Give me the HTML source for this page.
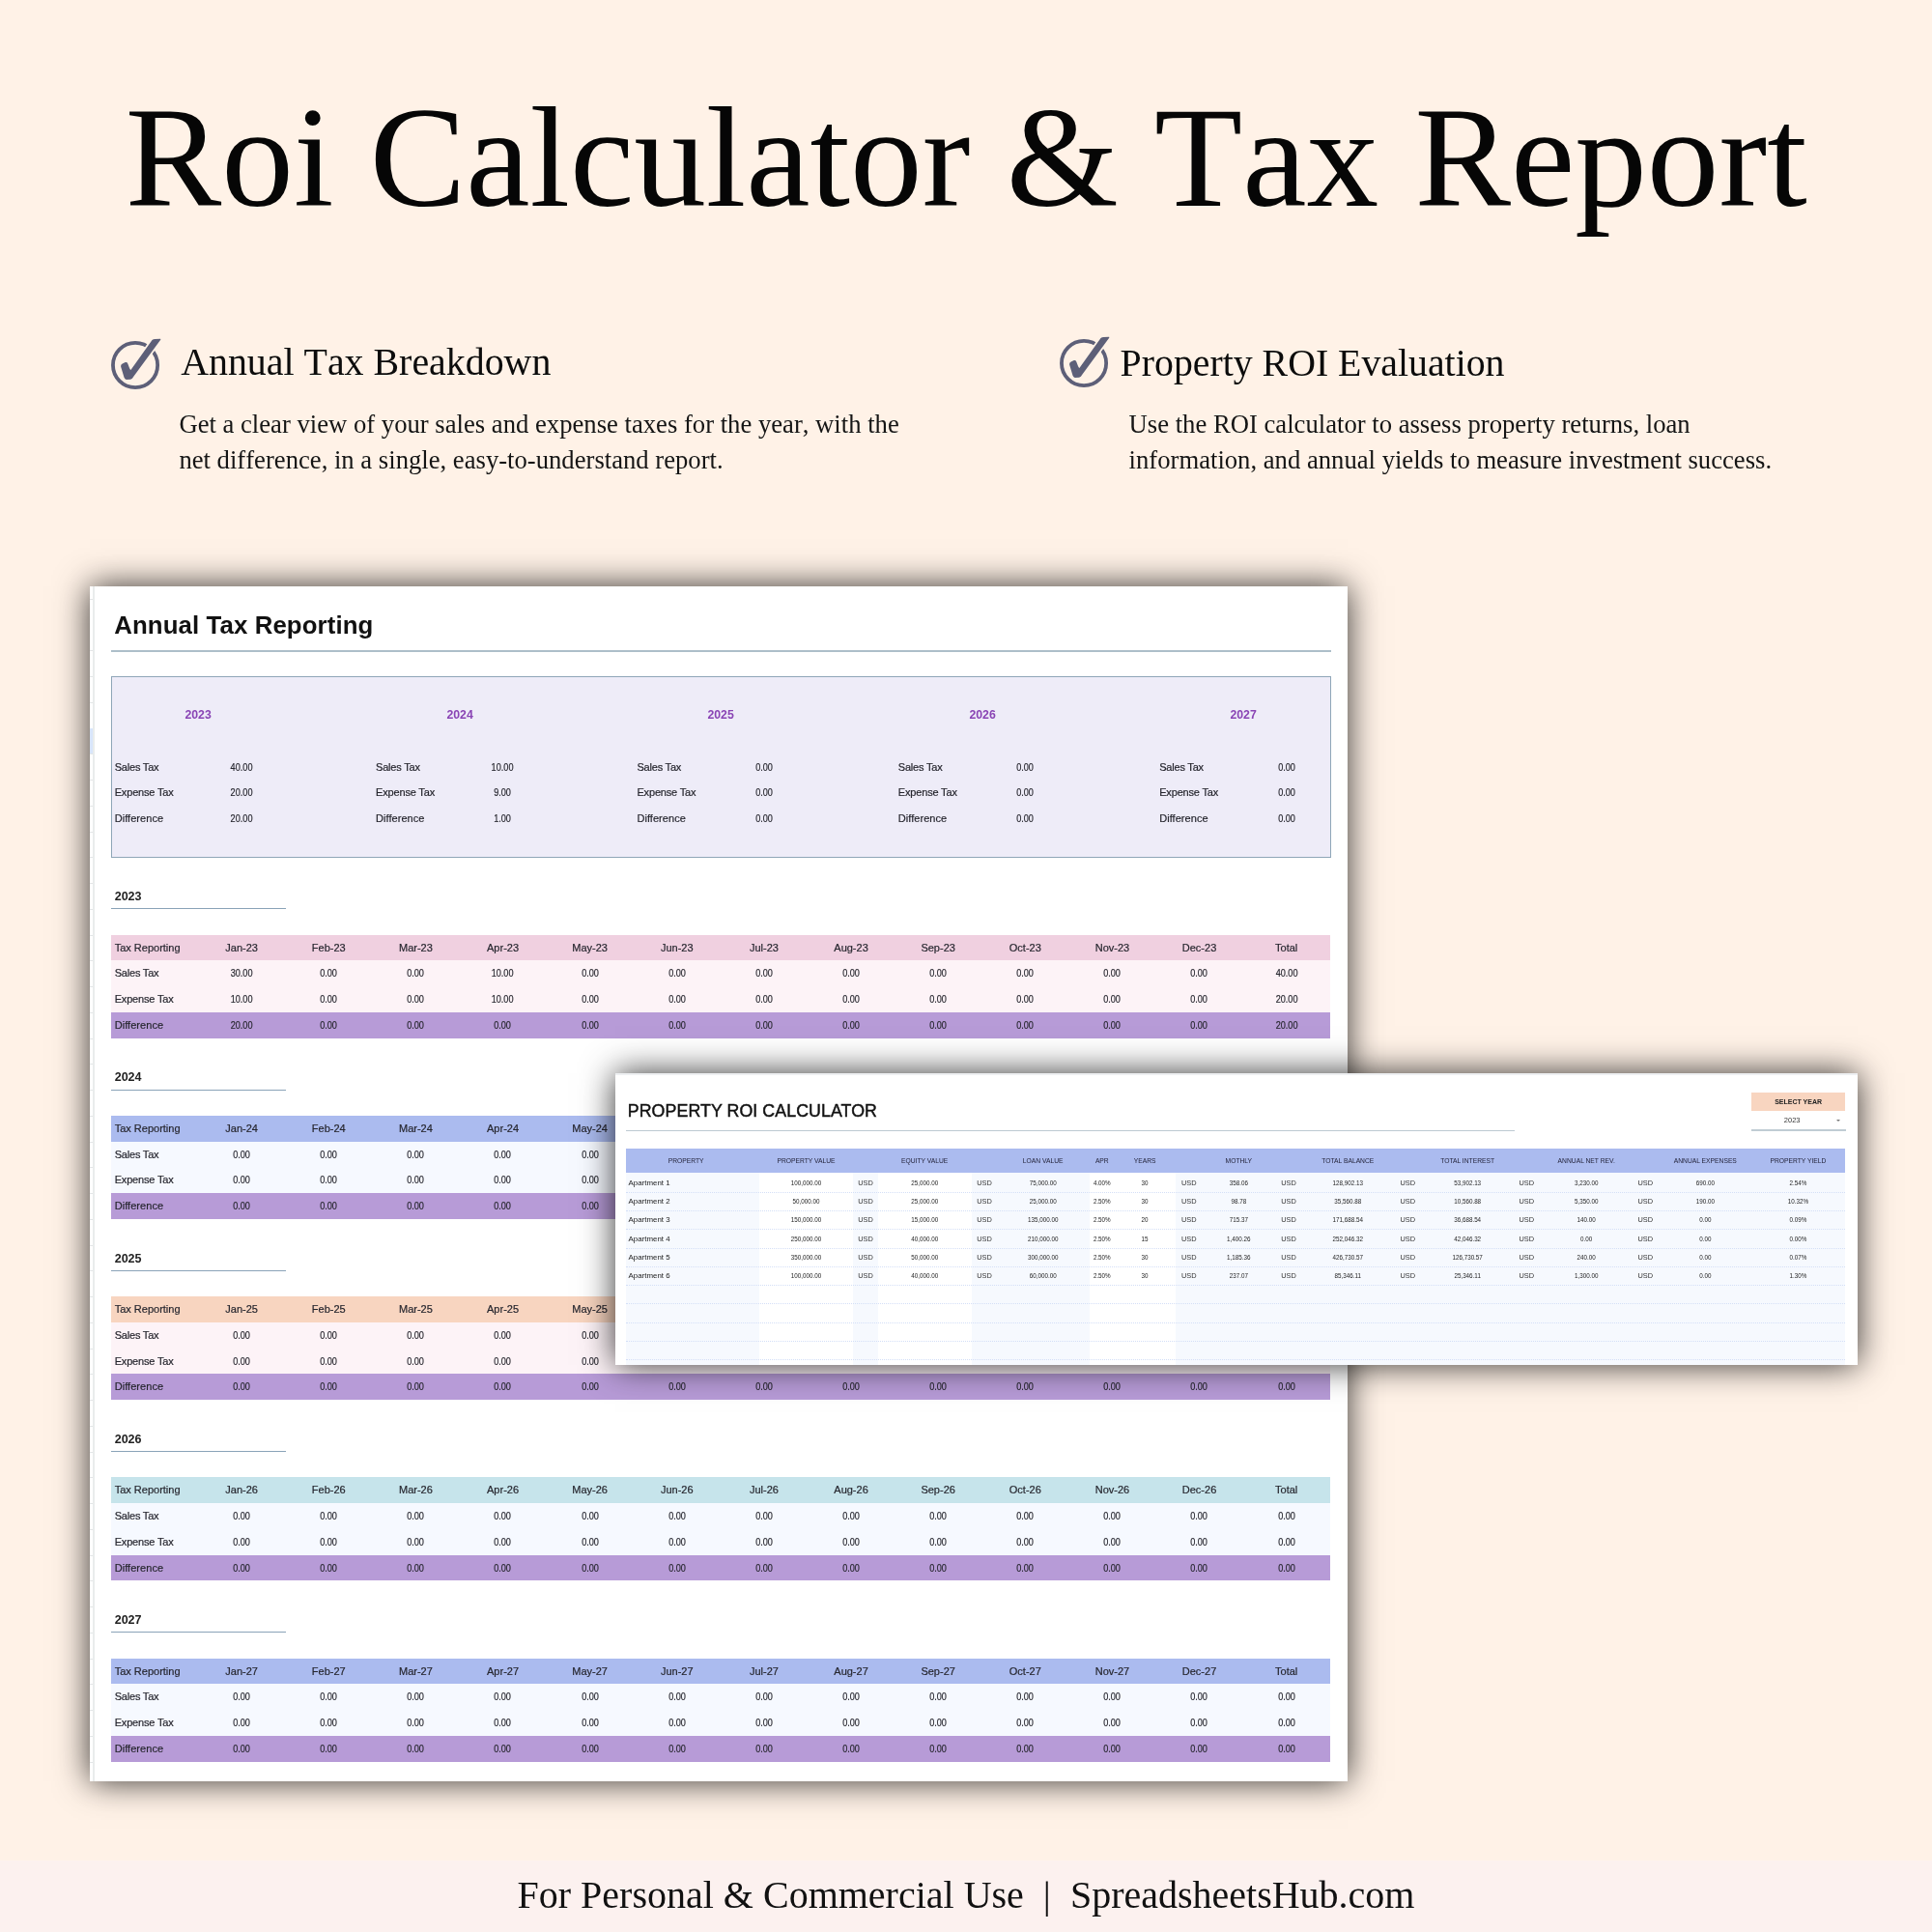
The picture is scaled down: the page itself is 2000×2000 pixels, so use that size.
<!DOCTYPE html><html lang="en"><head><meta charset="utf-8"><title>Roi Calculator &amp; Tax Report</title><style>

*{margin:0;padding:0;box-sizing:border-box}
html,body{width:2000px;height:2000px;overflow:hidden}
body{background:#fff2e7;position:relative;font-family:"Liberation Sans",sans-serif;color:#222}
.abs{position:absolute}
#page{position:absolute;left:0;top:0;width:2000px;height:2000px;will-change:transform}
.serif{font-family:"Liberation Serif",serif;font-kerning:none;font-feature-settings:"kern" 0,"liga" 0}
#title{left:0.2px;width:2000px;top:78.1px;text-align:center;font-size:149.25px;line-height:170px;color:#060606;white-space:nowrap;letter-spacing:0px}
.h{font-size:40px;line-height:46px;color:#0c0c0c;white-space:nowrap}
.p{font-size:26.67px;line-height:37px;color:#151515;white-space:nowrap}
#footband{left:0;top:1925.5px;width:2000px;height:75px;background:#fcf1ef}
#foot{left:0;width:2000px;top:1938.5px;text-align:center;font-size:40px;line-height:46px;color:#111;white-space:pre}
.panel{background:#fff;box-shadow:0 0 33px rgba(0,0,0,.8)}
#sheet{left:93.4px;top:607px;width:1301.5px;height:1236.5px;overflow:hidden}
.c{position:absolute;white-space:nowrap;font-size:11px;color:#26262e;-webkit-text-stroke:.2px #26262e}
.ls1{letter-spacing:-.2px}.ls2{letter-spacing:-.17px}.ls3{letter-spacing:.05px}
.cc{text-align:center}
.row{position:absolute;left:21.6px;width:1261.75px;height:26.75px}
.row span{position:absolute;top:0;height:26.75px;line-height:27.9px;font-size:11px;color:#26262e;white-space:nowrap;-webkit-text-stroke:.2px #26262e}
.row span.l{left:3.7px}
.row span.n{width:90.125px;text-align:center}
.row span.d{transform:scaleX(.83)}
.sx{transform:scaleX(.83)}
.yl{position:absolute;left:25.3px;font-weight:bold;font-size:12.5px;line-height:28.6px;color:#222}
.yu{position:absolute;left:21.6px;width:180.8px;height:1.1px;background:#8aa3b8}

</style></head><body><div id="page">
<div id="title" class="abs serif">Roi Calculator &amp; Tax Report</div>
<svg class="abs" style="left:105.00px;top:340.30px" width="70" height="70" viewBox="0 0 70 70"><circle cx="35.05" cy="37.95" r="23.1" fill="none" stroke="#5d5f78" stroke-width="3.8"/><path d="M30.4 42.9 L52.5 12.1 Q53.8 11.2 55.4 11 L60.9 10.8 Q61.7 11 61.2 11.8 L33.3 49.8 Q32.2 52.2 30.1 52.7 L25.8 53.1 Q24.2 52.7 23.5 50.7 L20.1 39.6 Q19.7 37.6 21.7 36.6 L24.8 35.1 Q26.5 34.6 27.3 36.4 L29 40.9 Q29.6 42.2 30.4 42.9Z" fill="none" stroke="#fff2e7" stroke-width="3.6" stroke-linejoin="round"/><path d="M30.4 42.9 L52.5 12.1 Q53.8 11.2 55.4 11 L60.9 10.8 Q61.7 11 61.2 11.8 L33.3 49.8 Q32.2 52.2 30.1 52.7 L25.8 53.1 Q24.2 52.7 23.5 50.7 L20.1 39.6 Q19.7 37.6 21.7 36.6 L24.8 35.1 Q26.5 34.6 27.3 36.4 L29 40.9 Q29.6 42.2 30.4 42.9Z" fill="#5d5f78"/></svg>
<svg class="abs" style="left:1087.00px;top:338.05px" width="70" height="70" viewBox="0 0 70 70"><circle cx="35.05" cy="37.95" r="23.1" fill="none" stroke="#5d5f78" stroke-width="3.8"/><path d="M30.4 42.9 L52.5 12.1 Q53.8 11.2 55.4 11 L60.9 10.8 Q61.7 11 61.2 11.8 L33.3 49.8 Q32.2 52.2 30.1 52.7 L25.8 53.1 Q24.2 52.7 23.5 50.7 L20.1 39.6 Q19.7 37.6 21.7 36.6 L24.8 35.1 Q26.5 34.6 27.3 36.4 L29 40.9 Q29.6 42.2 30.4 42.9Z" fill="none" stroke="#fff2e7" stroke-width="3.6" stroke-linejoin="round"/><path d="M30.4 42.9 L52.5 12.1 Q53.8 11.2 55.4 11 L60.9 10.8 Q61.7 11 61.2 11.8 L33.3 49.8 Q32.2 52.2 30.1 52.7 L25.8 53.1 Q24.2 52.7 23.5 50.7 L20.1 39.6 Q19.7 37.6 21.7 36.6 L24.8 35.1 Q26.5 34.6 27.3 36.4 L29 40.9 Q29.6 42.2 30.4 42.9Z" fill="#5d5f78"/></svg>
<div class="abs serif h" style="left:187.2px;top:352.4px;font-size:39.88px">Annual Tax Breakdown</div>
<div class="abs serif p" style="left:185.4px;top:420.7px;font-size:26.67px">Get a clear view of your sales and expense taxes for the year, with the<br>net difference, in a single, easy-to-understand report.</div>
<div class="abs serif h" style="left:1159.6px;top:352.6px;font-size:39.8px">Property ROI Evaluation</div>
<div class="abs serif p" style="left:1168.6px;top:420.8px">Use the ROI calculator to assess property returns, loan<br>information, and annual yields to measure investment success.</div>
<div id="footband" class="abs"></div>
<div id="foot" class="abs serif">For Personal &amp; Commercial Use  |  SpreadsheetsHub.com</div>
<div id="sheet" class="abs panel">
<div class="abs" style="left:0;top:0;width:2.6px;height:100%;background:#fff;border-right:2.1px solid #e9ecec;box-sizing:content-box"></div>
<div class="abs" style="left:0;top:12.60px;width:2.6px;height:1px;background:#e2e5e6"></div>
<div class="abs" style="left:0;top:66.25px;width:2.6px;height:1px;background:#e2e5e6"></div>
<div class="abs" style="left:0;top:93.00px;width:2.6px;height:1px;background:#e2e5e6"></div>
<div class="abs" style="left:0;top:119.75px;width:2.6px;height:1px;background:#e2e5e6"></div>
<div class="abs" style="left:0;top:146.50px;width:2.6px;height:1px;background:#e2e5e6"></div>
<div class="abs" style="left:0;top:173.25px;width:2.6px;height:1px;background:#e2e5e6"></div>
<div class="abs" style="left:0;top:200.00px;width:2.6px;height:1px;background:#e2e5e6"></div>
<div class="abs" style="left:0;top:226.75px;width:2.6px;height:1px;background:#e2e5e6"></div>
<div class="abs" style="left:0;top:253.50px;width:2.6px;height:1px;background:#e2e5e6"></div>
<div class="abs" style="left:0;top:280.25px;width:2.6px;height:1px;background:#e2e5e6"></div>
<div class="abs" style="left:0;top:307.00px;width:2.6px;height:1px;background:#e2e5e6"></div>
<div class="abs" style="left:0;top:333.75px;width:2.6px;height:1px;background:#e2e5e6"></div>
<div class="abs" style="left:0;top:360.50px;width:2.6px;height:1px;background:#e2e5e6"></div>
<div class="abs" style="left:0;top:387.25px;width:2.6px;height:1px;background:#e2e5e6"></div>
<div class="abs" style="left:0;top:414.00px;width:2.6px;height:1px;background:#e2e5e6"></div>
<div class="abs" style="left:0;top:440.75px;width:2.6px;height:1px;background:#e2e5e6"></div>
<div class="abs" style="left:0;top:467.50px;width:2.6px;height:1px;background:#e2e5e6"></div>
<div class="abs" style="left:0;top:494.25px;width:2.6px;height:1px;background:#e2e5e6"></div>
<div class="abs" style="left:0;top:521.00px;width:2.6px;height:1px;background:#e2e5e6"></div>
<div class="abs" style="left:0;top:547.75px;width:2.6px;height:1px;background:#e2e5e6"></div>
<div class="abs" style="left:0;top:574.50px;width:2.6px;height:1px;background:#e2e5e6"></div>
<div class="abs" style="left:0;top:601.25px;width:2.6px;height:1px;background:#e2e5e6"></div>
<div class="abs" style="left:0;top:628.00px;width:2.6px;height:1px;background:#e2e5e6"></div>
<div class="abs" style="left:0;top:654.75px;width:2.6px;height:1px;background:#e2e5e6"></div>
<div class="abs" style="left:0;top:681.50px;width:2.6px;height:1px;background:#e2e5e6"></div>
<div class="abs" style="left:0;top:708.25px;width:2.6px;height:1px;background:#e2e5e6"></div>
<div class="abs" style="left:0;top:735.00px;width:2.6px;height:1px;background:#e2e5e6"></div>
<div class="abs" style="left:0;top:761.75px;width:2.6px;height:1px;background:#e2e5e6"></div>
<div class="abs" style="left:0;top:788.50px;width:2.6px;height:1px;background:#e2e5e6"></div>
<div class="abs" style="left:0;top:815.25px;width:2.6px;height:1px;background:#e2e5e6"></div>
<div class="abs" style="left:0;top:842.00px;width:2.6px;height:1px;background:#e2e5e6"></div>
<div class="abs" style="left:0;top:868.75px;width:2.6px;height:1px;background:#e2e5e6"></div>
<div class="abs" style="left:0;top:895.50px;width:2.6px;height:1px;background:#e2e5e6"></div>
<div class="abs" style="left:0;top:922.25px;width:2.6px;height:1px;background:#e2e5e6"></div>
<div class="abs" style="left:0;top:949.00px;width:2.6px;height:1px;background:#e2e5e6"></div>
<div class="abs" style="left:0;top:975.75px;width:2.6px;height:1px;background:#e2e5e6"></div>
<div class="abs" style="left:0;top:1002.50px;width:2.6px;height:1px;background:#e2e5e6"></div>
<div class="abs" style="left:0;top:1029.25px;width:2.6px;height:1px;background:#e2e5e6"></div>
<div class="abs" style="left:0;top:1056.00px;width:2.6px;height:1px;background:#e2e5e6"></div>
<div class="abs" style="left:0;top:1082.75px;width:2.6px;height:1px;background:#e2e5e6"></div>
<div class="abs" style="left:0;top:1109.50px;width:2.6px;height:1px;background:#e2e5e6"></div>
<div class="abs" style="left:0;top:1136.25px;width:2.6px;height:1px;background:#e2e5e6"></div>
<div class="abs" style="left:0;top:1163.00px;width:2.6px;height:1px;background:#e2e5e6"></div>
<div class="abs" style="left:0;top:1189.75px;width:2.6px;height:1px;background:#e2e5e6"></div>
<div class="abs" style="left:0;top:1216.50px;width:2.6px;height:1px;background:#e2e5e6"></div>
<div class="abs" style="left:0;top:146.50px;width:2.6px;height:26.75px;background:#d8e5fb"></div>
<div class="abs" style="left:24.9px;top:24.50px;font-weight:bold;font-size:25.8px;line-height:30px;color:#111;white-space:nowrap;letter-spacing:.1px">Annual Tax Reporting</div>
<div class="abs" style="left:21.6px;top:66.00px;width:1263.1px;height:1.6px;background:#adbec9"></div>
<div class="abs" style="left:21.6px;top:93.00px;width:1263.1px;height:188px;background:#eeecf8;border:1.2px solid #8fa6b8"></div>
<div class="c cc" style="left:22.00px;top:120.15px;width:180.25px;line-height:26.75px;font-weight:bold;font-size:13.5px;color:#8a45b5;-webkit-text-stroke:0;transform:scaleX(.91)">2023</div>
<div class="c ls1" style="left:25.30px;top:173.65px;line-height:26.75px">Sales Tax</div>
<div class="c cc sx" style="left:111.72px;top:173.65px;width:90.12px;line-height:26.75px">40.00</div>
<div class="c ls2" style="left:25.30px;top:200.40px;line-height:26.75px">Expense Tax</div>
<div class="c cc sx" style="left:111.72px;top:200.40px;width:90.12px;line-height:26.75px">20.00</div>
<div class="c ls3" style="left:25.30px;top:227.15px;line-height:26.75px">Difference</div>
<div class="c cc sx" style="left:111.72px;top:227.15px;width:90.12px;line-height:26.75px">20.00</div>
<div class="c cc" style="left:292.38px;top:120.15px;width:180.25px;line-height:26.75px;font-weight:bold;font-size:13.5px;color:#8a45b5;-webkit-text-stroke:0;transform:scaleX(.91)">2024</div>
<div class="c ls1" style="left:295.68px;top:173.65px;line-height:26.75px">Sales Tax</div>
<div class="c cc sx" style="left:382.10px;top:173.65px;width:90.12px;line-height:26.75px">10.00</div>
<div class="c ls2" style="left:295.68px;top:200.40px;line-height:26.75px">Expense Tax</div>
<div class="c cc sx" style="left:382.10px;top:200.40px;width:90.12px;line-height:26.75px">9.00</div>
<div class="c ls3" style="left:295.68px;top:227.15px;line-height:26.75px">Difference</div>
<div class="c cc sx" style="left:382.10px;top:227.15px;width:90.12px;line-height:26.75px">1.00</div>
<div class="c cc" style="left:562.75px;top:120.15px;width:180.25px;line-height:26.75px;font-weight:bold;font-size:13.5px;color:#8a45b5;-webkit-text-stroke:0;transform:scaleX(.91)">2025</div>
<div class="c ls1" style="left:566.05px;top:173.65px;line-height:26.75px">Sales Tax</div>
<div class="c cc sx" style="left:652.48px;top:173.65px;width:90.12px;line-height:26.75px">0.00</div>
<div class="c ls2" style="left:566.05px;top:200.40px;line-height:26.75px">Expense Tax</div>
<div class="c cc sx" style="left:652.48px;top:200.40px;width:90.12px;line-height:26.75px">0.00</div>
<div class="c ls3" style="left:566.05px;top:227.15px;line-height:26.75px">Difference</div>
<div class="c cc sx" style="left:652.48px;top:227.15px;width:90.12px;line-height:26.75px">0.00</div>
<div class="c cc" style="left:833.12px;top:120.15px;width:180.25px;line-height:26.75px;font-weight:bold;font-size:13.5px;color:#8a45b5;-webkit-text-stroke:0;transform:scaleX(.91)">2026</div>
<div class="c ls1" style="left:836.43px;top:173.65px;line-height:26.75px">Sales Tax</div>
<div class="c cc sx" style="left:922.85px;top:173.65px;width:90.12px;line-height:26.75px">0.00</div>
<div class="c ls2" style="left:836.43px;top:200.40px;line-height:26.75px">Expense Tax</div>
<div class="c cc sx" style="left:922.85px;top:200.40px;width:90.12px;line-height:26.75px">0.00</div>
<div class="c ls3" style="left:836.43px;top:227.15px;line-height:26.75px">Difference</div>
<div class="c cc sx" style="left:922.85px;top:227.15px;width:90.12px;line-height:26.75px">0.00</div>
<div class="c cc" style="left:1103.50px;top:120.15px;width:180.25px;line-height:26.75px;font-weight:bold;font-size:13.5px;color:#8a45b5;-webkit-text-stroke:0;transform:scaleX(.91)">2027</div>
<div class="c ls1" style="left:1106.80px;top:173.65px;line-height:26.75px">Sales Tax</div>
<div class="c cc sx" style="left:1193.22px;top:173.65px;width:90.12px;line-height:26.75px">0.00</div>
<div class="c ls2" style="left:1106.80px;top:200.40px;line-height:26.75px">Expense Tax</div>
<div class="c cc sx" style="left:1193.22px;top:200.40px;width:90.12px;line-height:26.75px">0.00</div>
<div class="c ls3" style="left:1106.80px;top:227.15px;line-height:26.75px">Difference</div>
<div class="c cc sx" style="left:1193.22px;top:227.15px;width:90.12px;line-height:26.75px">0.00</div>
<div class="yl" style="top:307.00px">2023</div>
<div class="yu" style="top:333.35px"></div>
<div class="row" style="top:360.50px;background:#f0d0e0"><span class="l">Tax Reporting</span><span class="n" style="left:90.12px">Jan-23</span><span class="n" style="left:180.25px">Feb-23</span><span class="n" style="left:270.38px">Mar-23</span><span class="n" style="left:360.50px">Apr-23</span><span class="n" style="left:450.62px">May-23</span><span class="n" style="left:540.75px">Jun-23</span><span class="n" style="left:630.88px">Jul-23</span><span class="n" style="left:721.00px">Aug-23</span><span class="n" style="left:811.12px">Sep-23</span><span class="n" style="left:901.25px">Oct-23</span><span class="n" style="left:991.38px">Nov-23</span><span class="n" style="left:1081.50px">Dec-23</span><span class="n" style="left:1171.62px">Total</span></div>
<div class="row" style="top:387.25px;background:#fdf3f7"><span class="l ls1">Sales Tax</span><span class="n d" style="left:90.12px">30.00</span><span class="n d" style="left:180.25px">0.00</span><span class="n d" style="left:270.38px">0.00</span><span class="n d" style="left:360.50px">10.00</span><span class="n d" style="left:450.62px">0.00</span><span class="n d" style="left:540.75px">0.00</span><span class="n d" style="left:630.88px">0.00</span><span class="n d" style="left:721.00px">0.00</span><span class="n d" style="left:811.12px">0.00</span><span class="n d" style="left:901.25px">0.00</span><span class="n d" style="left:991.38px">0.00</span><span class="n d" style="left:1081.50px">0.00</span><span class="n d" style="left:1171.62px">40.00</span></div>
<div class="row" style="top:414.00px;background:#fdf3f7"><span class="l ls2">Expense Tax</span><span class="n d" style="left:90.12px">10.00</span><span class="n d" style="left:180.25px">0.00</span><span class="n d" style="left:270.38px">0.00</span><span class="n d" style="left:360.50px">10.00</span><span class="n d" style="left:450.62px">0.00</span><span class="n d" style="left:540.75px">0.00</span><span class="n d" style="left:630.88px">0.00</span><span class="n d" style="left:721.00px">0.00</span><span class="n d" style="left:811.12px">0.00</span><span class="n d" style="left:901.25px">0.00</span><span class="n d" style="left:991.38px">0.00</span><span class="n d" style="left:1081.50px">0.00</span><span class="n d" style="left:1171.62px">20.00</span></div>
<div class="row" style="top:440.75px;background:#b79bd7"><span class="l ls3">Difference</span><span class="n d" style="left:90.12px">20.00</span><span class="n d" style="left:180.25px">0.00</span><span class="n d" style="left:270.38px">0.00</span><span class="n d" style="left:360.50px">0.00</span><span class="n d" style="left:450.62px">0.00</span><span class="n d" style="left:540.75px">0.00</span><span class="n d" style="left:630.88px">0.00</span><span class="n d" style="left:721.00px">0.00</span><span class="n d" style="left:811.12px">0.00</span><span class="n d" style="left:901.25px">0.00</span><span class="n d" style="left:991.38px">0.00</span><span class="n d" style="left:1081.50px">0.00</span><span class="n d" style="left:1171.62px">20.00</span></div>
<div class="yl" style="top:494.25px">2024</div>
<div class="yu" style="top:520.60px"></div>
<div class="row" style="top:547.75px;background:#abbbef"><span class="l">Tax Reporting</span><span class="n" style="left:90.12px">Jan-24</span><span class="n" style="left:180.25px">Feb-24</span><span class="n" style="left:270.38px">Mar-24</span><span class="n" style="left:360.50px">Apr-24</span><span class="n" style="left:450.62px">May-24</span><span class="n" style="left:540.75px">Jun-24</span><span class="n" style="left:630.88px">Jul-24</span><span class="n" style="left:721.00px">Aug-24</span><span class="n" style="left:811.12px">Sep-24</span><span class="n" style="left:901.25px">Oct-24</span><span class="n" style="left:991.38px">Nov-24</span><span class="n" style="left:1081.50px">Dec-24</span><span class="n" style="left:1171.62px">Total</span></div>
<div class="row" style="top:574.50px;background:#f6f9ff"><span class="l ls1">Sales Tax</span><span class="n d" style="left:90.12px">0.00</span><span class="n d" style="left:180.25px">0.00</span><span class="n d" style="left:270.38px">0.00</span><span class="n d" style="left:360.50px">0.00</span><span class="n d" style="left:450.62px">0.00</span><span class="n d" style="left:540.75px">0.00</span><span class="n d" style="left:630.88px">0.00</span><span class="n d" style="left:721.00px">0.00</span><span class="n d" style="left:811.12px">0.00</span><span class="n d" style="left:901.25px">0.00</span><span class="n d" style="left:991.38px">0.00</span><span class="n d" style="left:1081.50px">0.00</span><span class="n d" style="left:1171.62px">0.00</span></div>
<div class="row" style="top:601.25px;background:#f6f9ff"><span class="l ls2">Expense Tax</span><span class="n d" style="left:90.12px">0.00</span><span class="n d" style="left:180.25px">0.00</span><span class="n d" style="left:270.38px">0.00</span><span class="n d" style="left:360.50px">0.00</span><span class="n d" style="left:450.62px">0.00</span><span class="n d" style="left:540.75px">0.00</span><span class="n d" style="left:630.88px">0.00</span><span class="n d" style="left:721.00px">0.00</span><span class="n d" style="left:811.12px">0.00</span><span class="n d" style="left:901.25px">0.00</span><span class="n d" style="left:991.38px">0.00</span><span class="n d" style="left:1081.50px">0.00</span><span class="n d" style="left:1171.62px">0.00</span></div>
<div class="row" style="top:628.00px;background:#b79bd7"><span class="l ls3">Difference</span><span class="n d" style="left:90.12px">0.00</span><span class="n d" style="left:180.25px">0.00</span><span class="n d" style="left:270.38px">0.00</span><span class="n d" style="left:360.50px">0.00</span><span class="n d" style="left:450.62px">0.00</span><span class="n d" style="left:540.75px">0.00</span><span class="n d" style="left:630.88px">0.00</span><span class="n d" style="left:721.00px">0.00</span><span class="n d" style="left:811.12px">0.00</span><span class="n d" style="left:901.25px">0.00</span><span class="n d" style="left:991.38px">0.00</span><span class="n d" style="left:1081.50px">0.00</span><span class="n d" style="left:1171.62px">0.00</span></div>
<div class="yl" style="top:681.50px">2025</div>
<div class="yu" style="top:707.85px"></div>
<div class="row" style="top:735.00px;background:#f8d5c0"><span class="l">Tax Reporting</span><span class="n" style="left:90.12px">Jan-25</span><span class="n" style="left:180.25px">Feb-25</span><span class="n" style="left:270.38px">Mar-25</span><span class="n" style="left:360.50px">Apr-25</span><span class="n" style="left:450.62px">May-25</span><span class="n" style="left:540.75px">Jun-25</span><span class="n" style="left:630.88px">Jul-25</span><span class="n" style="left:721.00px">Aug-25</span><span class="n" style="left:811.12px">Sep-25</span><span class="n" style="left:901.25px">Oct-25</span><span class="n" style="left:991.38px">Nov-25</span><span class="n" style="left:1081.50px">Dec-25</span><span class="n" style="left:1171.62px">Total</span></div>
<div class="row" style="top:761.75px;background:#fdf3f7"><span class="l ls1">Sales Tax</span><span class="n d" style="left:90.12px">0.00</span><span class="n d" style="left:180.25px">0.00</span><span class="n d" style="left:270.38px">0.00</span><span class="n d" style="left:360.50px">0.00</span><span class="n d" style="left:450.62px">0.00</span><span class="n d" style="left:540.75px">0.00</span><span class="n d" style="left:630.88px">0.00</span><span class="n d" style="left:721.00px">0.00</span><span class="n d" style="left:811.12px">0.00</span><span class="n d" style="left:901.25px">0.00</span><span class="n d" style="left:991.38px">0.00</span><span class="n d" style="left:1081.50px">0.00</span><span class="n d" style="left:1171.62px">0.00</span></div>
<div class="row" style="top:788.50px;background:#fdf3f7"><span class="l ls2">Expense Tax</span><span class="n d" style="left:90.12px">0.00</span><span class="n d" style="left:180.25px">0.00</span><span class="n d" style="left:270.38px">0.00</span><span class="n d" style="left:360.50px">0.00</span><span class="n d" style="left:450.62px">0.00</span><span class="n d" style="left:540.75px">0.00</span><span class="n d" style="left:630.88px">0.00</span><span class="n d" style="left:721.00px">0.00</span><span class="n d" style="left:811.12px">0.00</span><span class="n d" style="left:901.25px">0.00</span><span class="n d" style="left:991.38px">0.00</span><span class="n d" style="left:1081.50px">0.00</span><span class="n d" style="left:1171.62px">0.00</span></div>
<div class="row" style="top:815.25px;background:#b79bd7"><span class="l ls3">Difference</span><span class="n d" style="left:90.12px">0.00</span><span class="n d" style="left:180.25px">0.00</span><span class="n d" style="left:270.38px">0.00</span><span class="n d" style="left:360.50px">0.00</span><span class="n d" style="left:450.62px">0.00</span><span class="n d" style="left:540.75px">0.00</span><span class="n d" style="left:630.88px">0.00</span><span class="n d" style="left:721.00px">0.00</span><span class="n d" style="left:811.12px">0.00</span><span class="n d" style="left:901.25px">0.00</span><span class="n d" style="left:991.38px">0.00</span><span class="n d" style="left:1081.50px">0.00</span><span class="n d" style="left:1171.62px">0.00</span></div>
<div class="yl" style="top:868.75px">2026</div>
<div class="yu" style="top:895.10px"></div>
<div class="row" style="top:922.25px;background:#c6e4eb"><span class="l">Tax Reporting</span><span class="n" style="left:90.12px">Jan-26</span><span class="n" style="left:180.25px">Feb-26</span><span class="n" style="left:270.38px">Mar-26</span><span class="n" style="left:360.50px">Apr-26</span><span class="n" style="left:450.62px">May-26</span><span class="n" style="left:540.75px">Jun-26</span><span class="n" style="left:630.88px">Jul-26</span><span class="n" style="left:721.00px">Aug-26</span><span class="n" style="left:811.12px">Sep-26</span><span class="n" style="left:901.25px">Oct-26</span><span class="n" style="left:991.38px">Nov-26</span><span class="n" style="left:1081.50px">Dec-26</span><span class="n" style="left:1171.62px">Total</span></div>
<div class="row" style="top:949.00px;background:#f6f9ff"><span class="l ls1">Sales Tax</span><span class="n d" style="left:90.12px">0.00</span><span class="n d" style="left:180.25px">0.00</span><span class="n d" style="left:270.38px">0.00</span><span class="n d" style="left:360.50px">0.00</span><span class="n d" style="left:450.62px">0.00</span><span class="n d" style="left:540.75px">0.00</span><span class="n d" style="left:630.88px">0.00</span><span class="n d" style="left:721.00px">0.00</span><span class="n d" style="left:811.12px">0.00</span><span class="n d" style="left:901.25px">0.00</span><span class="n d" style="left:991.38px">0.00</span><span class="n d" style="left:1081.50px">0.00</span><span class="n d" style="left:1171.62px">0.00</span></div>
<div class="row" style="top:975.75px;background:#f6f9ff"><span class="l ls2">Expense Tax</span><span class="n d" style="left:90.12px">0.00</span><span class="n d" style="left:180.25px">0.00</span><span class="n d" style="left:270.38px">0.00</span><span class="n d" style="left:360.50px">0.00</span><span class="n d" style="left:450.62px">0.00</span><span class="n d" style="left:540.75px">0.00</span><span class="n d" style="left:630.88px">0.00</span><span class="n d" style="left:721.00px">0.00</span><span class="n d" style="left:811.12px">0.00</span><span class="n d" style="left:901.25px">0.00</span><span class="n d" style="left:991.38px">0.00</span><span class="n d" style="left:1081.50px">0.00</span><span class="n d" style="left:1171.62px">0.00</span></div>
<div class="row" style="top:1002.50px;background:#b79bd7"><span class="l ls3">Difference</span><span class="n d" style="left:90.12px">0.00</span><span class="n d" style="left:180.25px">0.00</span><span class="n d" style="left:270.38px">0.00</span><span class="n d" style="left:360.50px">0.00</span><span class="n d" style="left:450.62px">0.00</span><span class="n d" style="left:540.75px">0.00</span><span class="n d" style="left:630.88px">0.00</span><span class="n d" style="left:721.00px">0.00</span><span class="n d" style="left:811.12px">0.00</span><span class="n d" style="left:901.25px">0.00</span><span class="n d" style="left:991.38px">0.00</span><span class="n d" style="left:1081.50px">0.00</span><span class="n d" style="left:1171.62px">0.00</span></div>
<div class="yl" style="top:1056.00px">2027</div>
<div class="yu" style="top:1082.35px"></div>
<div class="row" style="top:1109.50px;background:#abbbef"><span class="l">Tax Reporting</span><span class="n" style="left:90.12px">Jan-27</span><span class="n" style="left:180.25px">Feb-27</span><span class="n" style="left:270.38px">Mar-27</span><span class="n" style="left:360.50px">Apr-27</span><span class="n" style="left:450.62px">May-27</span><span class="n" style="left:540.75px">Jun-27</span><span class="n" style="left:630.88px">Jul-27</span><span class="n" style="left:721.00px">Aug-27</span><span class="n" style="left:811.12px">Sep-27</span><span class="n" style="left:901.25px">Oct-27</span><span class="n" style="left:991.38px">Nov-27</span><span class="n" style="left:1081.50px">Dec-27</span><span class="n" style="left:1171.62px">Total</span></div>
<div class="row" style="top:1136.25px;background:#f6f9ff"><span class="l ls1">Sales Tax</span><span class="n d" style="left:90.12px">0.00</span><span class="n d" style="left:180.25px">0.00</span><span class="n d" style="left:270.38px">0.00</span><span class="n d" style="left:360.50px">0.00</span><span class="n d" style="left:450.62px">0.00</span><span class="n d" style="left:540.75px">0.00</span><span class="n d" style="left:630.88px">0.00</span><span class="n d" style="left:721.00px">0.00</span><span class="n d" style="left:811.12px">0.00</span><span class="n d" style="left:901.25px">0.00</span><span class="n d" style="left:991.38px">0.00</span><span class="n d" style="left:1081.50px">0.00</span><span class="n d" style="left:1171.62px">0.00</span></div>
<div class="row" style="top:1163.00px;background:#f6f9ff"><span class="l ls2">Expense Tax</span><span class="n d" style="left:90.12px">0.00</span><span class="n d" style="left:180.25px">0.00</span><span class="n d" style="left:270.38px">0.00</span><span class="n d" style="left:360.50px">0.00</span><span class="n d" style="left:450.62px">0.00</span><span class="n d" style="left:540.75px">0.00</span><span class="n d" style="left:630.88px">0.00</span><span class="n d" style="left:721.00px">0.00</span><span class="n d" style="left:811.12px">0.00</span><span class="n d" style="left:901.25px">0.00</span><span class="n d" style="left:991.38px">0.00</span><span class="n d" style="left:1081.50px">0.00</span><span class="n d" style="left:1171.62px">0.00</span></div>
<div class="row" style="top:1189.75px;background:#b79bd7"><span class="l ls3">Difference</span><span class="n d" style="left:90.12px">0.00</span><span class="n d" style="left:180.25px">0.00</span><span class="n d" style="left:270.38px">0.00</span><span class="n d" style="left:360.50px">0.00</span><span class="n d" style="left:450.62px">0.00</span><span class="n d" style="left:540.75px">0.00</span><span class="n d" style="left:630.88px">0.00</span><span class="n d" style="left:721.00px">0.00</span><span class="n d" style="left:811.12px">0.00</span><span class="n d" style="left:901.25px">0.00</span><span class="n d" style="left:991.38px">0.00</span><span class="n d" style="left:1081.50px">0.00</span><span class="n d" style="left:1171.62px">0.00</span></div>
</div>
<div id="roi" class="abs panel" style="left:636.7px;top:1111.2px;width:1286px;height:301.9px;overflow:hidden">
<div class="abs" style="left:0;top:0;width:100%;height:1.4px;background:#eef0f2"></div>
<div class="abs" style="left:13.1px;top:27.10px;font-size:17.8px;line-height:24px;color:#111;white-space:nowrap;letter-spacing:.07px;-webkit-text-stroke:.45px #111">PROPERTY ROI CALCULATOR</div>
<div class="abs" style="left:11.5px;top:58.50px;width:919.5px;height:1.3px;background:#bdcad2"></div>
<div class="abs" style="left:1176.50px;top:19.80px;width:96.8px;height:19.2px;background:#f8d5c0;text-align:center;font-weight:bold;font-size:7px;line-height:19.2px;color:#222">SELECT YEAR</div>
<div class="abs" style="left:1176.50px;top:39.20px;width:84px;text-align:center;font-size:7.5px;line-height:19.2px;color:#333">2023</div>
<div class="abs" style="left:1264.60px;top:48.20px;width:0;height:0;border-left:2px solid transparent;border-right:2px solid transparent;border-top:2.4px solid #777"></div>
<div class="abs" style="left:1176.50px;top:58.20px;width:97.6px;height:1.6px;background:#c0ccd4"></div>
<div class="abs" style="left:11.60px;top:103.30px;width:124.50px;height:220px;background:#f6f9fe"></div>
<div class="abs" style="left:136.00px;top:103.30px;width:13.10px;height:220px;background:#f6f9fe"></div>
<div class="abs" style="left:246.00px;top:103.30px;width:26.70px;height:220px;background:#f6f9fe"></div>
<div class="abs" style="left:369.00px;top:103.30px;width:26.70px;height:220px;background:#f6f9fe"></div>
<div class="abs" style="left:395.60px;top:103.30px;width:95.50px;height:220px;background:#f6f9fe"></div>
<div class="abs" style="left:580.80px;top:103.30px;width:26.50px;height:220px;background:#f6f9fe"></div>
<div class="abs" style="left:607.20px;top:103.30px;width:76.80px;height:220px;background:#f6f9fe"></div>
<div class="abs" style="left:683.90px;top:103.30px;width:26.90px;height:220px;background:#f6f9fe"></div>
<div class="abs" style="left:710.70px;top:103.30px;width:96.70px;height:220px;background:#f6f9fe"></div>
<div class="abs" style="left:807.30px;top:103.30px;width:26.80px;height:220px;background:#f6f9fe"></div>
<div class="abs" style="left:834.00px;top:103.30px;width:96.40px;height:220px;background:#f6f9fe"></div>
<div class="abs" style="left:930.30px;top:103.30px;width:26.70px;height:220px;background:#f6f9fe"></div>
<div class="abs" style="left:956.90px;top:103.30px;width:96.50px;height:220px;background:#f6f9fe"></div>
<div class="abs" style="left:1053.30px;top:103.30px;width:26.70px;height:220px;background:#f6f9fe"></div>
<div class="abs" style="left:1079.90px;top:103.30px;width:96.70px;height:220px;background:#f6f9fe"></div>
<div class="abs" style="left:1176.50px;top:103.30px;width:96.90px;height:220px;background:#f6f9fe"></div>
<div class="abs" style="left:11.60px;top:77.80px;width:1261.70px;height:25.50px;background:#abbbef"></div>
<div class="abs cc" style="left:-8.40px;top:77.80px;width:164.40px;font-size:8px;line-height:25.50px;color:#23233a;white-space:nowrap;transform:scaleX(.84)">PROPERTY</div>
<div class="abs cc" style="left:129.00px;top:77.80px;width:137.00px;font-size:8px;line-height:25.50px;color:#23233a;white-space:nowrap;transform:scaleX(.84)">PROPERTY VALUE</div>
<div class="abs cc" style="left:252.60px;top:77.80px;width:136.40px;font-size:8px;line-height:25.50px;color:#23233a;white-space:nowrap;transform:scaleX(.84)">EQUITY VALUE</div>
<div class="abs cc" style="left:375.60px;top:77.80px;width:135.40px;font-size:8px;line-height:25.50px;color:#23233a;white-space:nowrap;transform:scaleX(.84)">LOAN VALUE</div>
<div class="abs cc" style="left:471.00px;top:77.80px;width:65.60px;font-size:8px;line-height:25.50px;color:#23233a;white-space:nowrap;transform:scaleX(.84)">APR</div>
<div class="abs cc" style="left:496.60px;top:77.80px;width:104.20px;font-size:8px;line-height:25.50px;color:#23233a;white-space:nowrap;transform:scaleX(.84)">YEARS</div>
<div class="abs cc" style="left:587.20px;top:77.80px;width:116.70px;font-size:8px;line-height:25.50px;color:#23233a;white-space:nowrap;transform:scaleX(.84)">MOTHLY</div>
<div class="abs cc" style="left:690.70px;top:77.80px;width:136.60px;font-size:8px;line-height:25.50px;color:#23233a;white-space:nowrap;transform:scaleX(.84)">TOTAL BALANCE</div>
<div class="abs cc" style="left:814.00px;top:77.80px;width:136.30px;font-size:8px;line-height:25.50px;color:#23233a;white-space:nowrap;transform:scaleX(.84)">TOTAL INTEREST</div>
<div class="abs cc" style="left:936.90px;top:77.80px;width:136.40px;font-size:8px;line-height:25.50px;color:#23233a;white-space:nowrap;transform:scaleX(.84)">ANNUAL NET REV.</div>
<div class="abs cc" style="left:1059.90px;top:77.80px;width:136.60px;font-size:8px;line-height:25.50px;color:#23233a;white-space:nowrap;transform:scaleX(.84)">ANNUAL EXPENSES</div>
<div class="abs cc" style="left:1156.50px;top:77.80px;width:136.80px;font-size:8px;line-height:25.50px;color:#23233a;white-space:nowrap;transform:scaleX(.84)">PROPERTY YIELD</div>
<div class="abs" style="left:11.60px;top:122.82px;width:1261.70px;height:0;border-top:1px dotted #d4dff7"></div>
<div class="abs" style="left:13.90px;top:103.80px;font-size:7.9px;line-height:19.22px;color:#222;white-space:nowrap">Apartment 1</div>
<div class="abs cc" style="left:139.00px;top:103.80px;width:117.00px;font-size:7.4px;line-height:19.22px;color:#222;white-space:nowrap;transform:scaleX(.85)">100,000.00</div>
<div class="abs cc" style="left:262.60px;top:103.80px;width:116.40px;font-size:7.4px;line-height:19.22px;color:#222;white-space:nowrap;transform:scaleX(.85)">25,000.00</div>
<div class="abs cc" style="left:385.60px;top:103.80px;width:115.40px;font-size:7.4px;line-height:19.22px;color:#222;white-space:nowrap;transform:scaleX(.85)">75,000.00</div>
<div class="abs cc" style="left:481.00px;top:103.80px;width:45.60px;font-size:7.4px;line-height:19.22px;color:#222;white-space:nowrap;transform:scaleX(.85)">4.00%</div>
<div class="abs cc" style="left:506.60px;top:103.80px;width:84.20px;font-size:7.4px;line-height:19.22px;color:#222;white-space:nowrap;transform:scaleX(.85)">30</div>
<div class="abs cc" style="left:597.20px;top:103.80px;width:96.70px;font-size:7.4px;line-height:19.22px;color:#222;white-space:nowrap;transform:scaleX(.85)">358.06</div>
<div class="abs cc" style="left:700.70px;top:103.80px;width:116.60px;font-size:7.4px;line-height:19.22px;color:#222;white-space:nowrap;transform:scaleX(.85)">128,902.13</div>
<div class="abs cc" style="left:824.00px;top:103.80px;width:116.30px;font-size:7.4px;line-height:19.22px;color:#222;white-space:nowrap;transform:scaleX(.85)">53,902.13</div>
<div class="abs cc" style="left:946.90px;top:103.80px;width:116.40px;font-size:7.4px;line-height:19.22px;color:#222;white-space:nowrap;transform:scaleX(.85)">3,230.00</div>
<div class="abs cc" style="left:1069.90px;top:103.80px;width:116.60px;font-size:7.4px;line-height:19.22px;color:#222;white-space:nowrap;transform:scaleX(.85)">690.00</div>
<div class="abs cc" style="left:1166.50px;top:103.80px;width:116.80px;font-size:7.4px;line-height:19.22px;color:#222;white-space:nowrap;transform:scaleX(.85)">2.54%</div>
<div class="abs cc" style="left:246.00px;top:103.80px;width:26.60px;font-size:7.4px;line-height:19.22px;color:#333;white-space:nowrap">USD</div>
<div class="abs cc" style="left:369.00px;top:103.80px;width:26.60px;font-size:7.4px;line-height:19.22px;color:#333;white-space:nowrap">USD</div>
<div class="abs cc" style="left:580.80px;top:103.80px;width:26.40px;font-size:7.4px;line-height:19.22px;color:#333;white-space:nowrap">USD</div>
<div class="abs cc" style="left:683.90px;top:103.80px;width:26.80px;font-size:7.4px;line-height:19.22px;color:#333;white-space:nowrap">USD</div>
<div class="abs cc" style="left:807.30px;top:103.80px;width:26.70px;font-size:7.4px;line-height:19.22px;color:#333;white-space:nowrap">USD</div>
<div class="abs cc" style="left:930.30px;top:103.80px;width:26.60px;font-size:7.4px;line-height:19.22px;color:#333;white-space:nowrap">USD</div>
<div class="abs cc" style="left:1053.30px;top:103.80px;width:26.60px;font-size:7.4px;line-height:19.22px;color:#333;white-space:nowrap">USD</div>
<div class="abs" style="left:11.60px;top:142.04px;width:1261.70px;height:0;border-top:1px dotted #d4dff7"></div>
<div class="abs" style="left:13.90px;top:123.02px;font-size:7.9px;line-height:19.22px;color:#222;white-space:nowrap">Apartment 2</div>
<div class="abs cc" style="left:139.00px;top:123.02px;width:117.00px;font-size:7.4px;line-height:19.22px;color:#222;white-space:nowrap;transform:scaleX(.85)">50,000.00</div>
<div class="abs cc" style="left:262.60px;top:123.02px;width:116.40px;font-size:7.4px;line-height:19.22px;color:#222;white-space:nowrap;transform:scaleX(.85)">25,000.00</div>
<div class="abs cc" style="left:385.60px;top:123.02px;width:115.40px;font-size:7.4px;line-height:19.22px;color:#222;white-space:nowrap;transform:scaleX(.85)">25,000.00</div>
<div class="abs cc" style="left:481.00px;top:123.02px;width:45.60px;font-size:7.4px;line-height:19.22px;color:#222;white-space:nowrap;transform:scaleX(.85)">2.50%</div>
<div class="abs cc" style="left:506.60px;top:123.02px;width:84.20px;font-size:7.4px;line-height:19.22px;color:#222;white-space:nowrap;transform:scaleX(.85)">30</div>
<div class="abs cc" style="left:597.20px;top:123.02px;width:96.70px;font-size:7.4px;line-height:19.22px;color:#222;white-space:nowrap;transform:scaleX(.85)">98.78</div>
<div class="abs cc" style="left:700.70px;top:123.02px;width:116.60px;font-size:7.4px;line-height:19.22px;color:#222;white-space:nowrap;transform:scaleX(.85)">35,560.88</div>
<div class="abs cc" style="left:824.00px;top:123.02px;width:116.30px;font-size:7.4px;line-height:19.22px;color:#222;white-space:nowrap;transform:scaleX(.85)">10,560.88</div>
<div class="abs cc" style="left:946.90px;top:123.02px;width:116.40px;font-size:7.4px;line-height:19.22px;color:#222;white-space:nowrap;transform:scaleX(.85)">5,350.00</div>
<div class="abs cc" style="left:1069.90px;top:123.02px;width:116.60px;font-size:7.4px;line-height:19.22px;color:#222;white-space:nowrap;transform:scaleX(.85)">190.00</div>
<div class="abs cc" style="left:1166.50px;top:123.02px;width:116.80px;font-size:7.4px;line-height:19.22px;color:#222;white-space:nowrap;transform:scaleX(.85)">10.32%</div>
<div class="abs cc" style="left:246.00px;top:123.02px;width:26.60px;font-size:7.4px;line-height:19.22px;color:#333;white-space:nowrap">USD</div>
<div class="abs cc" style="left:369.00px;top:123.02px;width:26.60px;font-size:7.4px;line-height:19.22px;color:#333;white-space:nowrap">USD</div>
<div class="abs cc" style="left:580.80px;top:123.02px;width:26.40px;font-size:7.4px;line-height:19.22px;color:#333;white-space:nowrap">USD</div>
<div class="abs cc" style="left:683.90px;top:123.02px;width:26.80px;font-size:7.4px;line-height:19.22px;color:#333;white-space:nowrap">USD</div>
<div class="abs cc" style="left:807.30px;top:123.02px;width:26.70px;font-size:7.4px;line-height:19.22px;color:#333;white-space:nowrap">USD</div>
<div class="abs cc" style="left:930.30px;top:123.02px;width:26.60px;font-size:7.4px;line-height:19.22px;color:#333;white-space:nowrap">USD</div>
<div class="abs cc" style="left:1053.30px;top:123.02px;width:26.60px;font-size:7.4px;line-height:19.22px;color:#333;white-space:nowrap">USD</div>
<div class="abs" style="left:11.60px;top:161.26px;width:1261.70px;height:0;border-top:1px dotted #d4dff7"></div>
<div class="abs" style="left:13.90px;top:142.24px;font-size:7.9px;line-height:19.22px;color:#222;white-space:nowrap">Apartment 3</div>
<div class="abs cc" style="left:139.00px;top:142.24px;width:117.00px;font-size:7.4px;line-height:19.22px;color:#222;white-space:nowrap;transform:scaleX(.85)">150,000.00</div>
<div class="abs cc" style="left:262.60px;top:142.24px;width:116.40px;font-size:7.4px;line-height:19.22px;color:#222;white-space:nowrap;transform:scaleX(.85)">15,000.00</div>
<div class="abs cc" style="left:385.60px;top:142.24px;width:115.40px;font-size:7.4px;line-height:19.22px;color:#222;white-space:nowrap;transform:scaleX(.85)">135,000.00</div>
<div class="abs cc" style="left:481.00px;top:142.24px;width:45.60px;font-size:7.4px;line-height:19.22px;color:#222;white-space:nowrap;transform:scaleX(.85)">2.50%</div>
<div class="abs cc" style="left:506.60px;top:142.24px;width:84.20px;font-size:7.4px;line-height:19.22px;color:#222;white-space:nowrap;transform:scaleX(.85)">20</div>
<div class="abs cc" style="left:597.20px;top:142.24px;width:96.70px;font-size:7.4px;line-height:19.22px;color:#222;white-space:nowrap;transform:scaleX(.85)">715.37</div>
<div class="abs cc" style="left:700.70px;top:142.24px;width:116.60px;font-size:7.4px;line-height:19.22px;color:#222;white-space:nowrap;transform:scaleX(.85)">171,688.54</div>
<div class="abs cc" style="left:824.00px;top:142.24px;width:116.30px;font-size:7.4px;line-height:19.22px;color:#222;white-space:nowrap;transform:scaleX(.85)">36,688.54</div>
<div class="abs cc" style="left:946.90px;top:142.24px;width:116.40px;font-size:7.4px;line-height:19.22px;color:#222;white-space:nowrap;transform:scaleX(.85)">140.00</div>
<div class="abs cc" style="left:1069.90px;top:142.24px;width:116.60px;font-size:7.4px;line-height:19.22px;color:#222;white-space:nowrap;transform:scaleX(.85)">0.00</div>
<div class="abs cc" style="left:1166.50px;top:142.24px;width:116.80px;font-size:7.4px;line-height:19.22px;color:#222;white-space:nowrap;transform:scaleX(.85)">0.09%</div>
<div class="abs cc" style="left:246.00px;top:142.24px;width:26.60px;font-size:7.4px;line-height:19.22px;color:#333;white-space:nowrap">USD</div>
<div class="abs cc" style="left:369.00px;top:142.24px;width:26.60px;font-size:7.4px;line-height:19.22px;color:#333;white-space:nowrap">USD</div>
<div class="abs cc" style="left:580.80px;top:142.24px;width:26.40px;font-size:7.4px;line-height:19.22px;color:#333;white-space:nowrap">USD</div>
<div class="abs cc" style="left:683.90px;top:142.24px;width:26.80px;font-size:7.4px;line-height:19.22px;color:#333;white-space:nowrap">USD</div>
<div class="abs cc" style="left:807.30px;top:142.24px;width:26.70px;font-size:7.4px;line-height:19.22px;color:#333;white-space:nowrap">USD</div>
<div class="abs cc" style="left:930.30px;top:142.24px;width:26.60px;font-size:7.4px;line-height:19.22px;color:#333;white-space:nowrap">USD</div>
<div class="abs cc" style="left:1053.30px;top:142.24px;width:26.60px;font-size:7.4px;line-height:19.22px;color:#333;white-space:nowrap">USD</div>
<div class="abs" style="left:11.60px;top:180.48px;width:1261.70px;height:0;border-top:1px dotted #d4dff7"></div>
<div class="abs" style="left:13.90px;top:161.46px;font-size:7.9px;line-height:19.22px;color:#222;white-space:nowrap">Apartment 4</div>
<div class="abs cc" style="left:139.00px;top:161.46px;width:117.00px;font-size:7.4px;line-height:19.22px;color:#222;white-space:nowrap;transform:scaleX(.85)">250,000.00</div>
<div class="abs cc" style="left:262.60px;top:161.46px;width:116.40px;font-size:7.4px;line-height:19.22px;color:#222;white-space:nowrap;transform:scaleX(.85)">40,000.00</div>
<div class="abs cc" style="left:385.60px;top:161.46px;width:115.40px;font-size:7.4px;line-height:19.22px;color:#222;white-space:nowrap;transform:scaleX(.85)">210,000.00</div>
<div class="abs cc" style="left:481.00px;top:161.46px;width:45.60px;font-size:7.4px;line-height:19.22px;color:#222;white-space:nowrap;transform:scaleX(.85)">2.50%</div>
<div class="abs cc" style="left:506.60px;top:161.46px;width:84.20px;font-size:7.4px;line-height:19.22px;color:#222;white-space:nowrap;transform:scaleX(.85)">15</div>
<div class="abs cc" style="left:597.20px;top:161.46px;width:96.70px;font-size:7.4px;line-height:19.22px;color:#222;white-space:nowrap;transform:scaleX(.85)">1,400.26</div>
<div class="abs cc" style="left:700.70px;top:161.46px;width:116.60px;font-size:7.4px;line-height:19.22px;color:#222;white-space:nowrap;transform:scaleX(.85)">252,046.32</div>
<div class="abs cc" style="left:824.00px;top:161.46px;width:116.30px;font-size:7.4px;line-height:19.22px;color:#222;white-space:nowrap;transform:scaleX(.85)">42,046.32</div>
<div class="abs cc" style="left:946.90px;top:161.46px;width:116.40px;font-size:7.4px;line-height:19.22px;color:#222;white-space:nowrap;transform:scaleX(.85)">0.00</div>
<div class="abs cc" style="left:1069.90px;top:161.46px;width:116.60px;font-size:7.4px;line-height:19.22px;color:#222;white-space:nowrap;transform:scaleX(.85)">0.00</div>
<div class="abs cc" style="left:1166.50px;top:161.46px;width:116.80px;font-size:7.4px;line-height:19.22px;color:#222;white-space:nowrap;transform:scaleX(.85)">0.00%</div>
<div class="abs cc" style="left:246.00px;top:161.46px;width:26.60px;font-size:7.4px;line-height:19.22px;color:#333;white-space:nowrap">USD</div>
<div class="abs cc" style="left:369.00px;top:161.46px;width:26.60px;font-size:7.4px;line-height:19.22px;color:#333;white-space:nowrap">USD</div>
<div class="abs cc" style="left:580.80px;top:161.46px;width:26.40px;font-size:7.4px;line-height:19.22px;color:#333;white-space:nowrap">USD</div>
<div class="abs cc" style="left:683.90px;top:161.46px;width:26.80px;font-size:7.4px;line-height:19.22px;color:#333;white-space:nowrap">USD</div>
<div class="abs cc" style="left:807.30px;top:161.46px;width:26.70px;font-size:7.4px;line-height:19.22px;color:#333;white-space:nowrap">USD</div>
<div class="abs cc" style="left:930.30px;top:161.46px;width:26.60px;font-size:7.4px;line-height:19.22px;color:#333;white-space:nowrap">USD</div>
<div class="abs cc" style="left:1053.30px;top:161.46px;width:26.60px;font-size:7.4px;line-height:19.22px;color:#333;white-space:nowrap">USD</div>
<div class="abs" style="left:11.60px;top:199.70px;width:1261.70px;height:0;border-top:1px dotted #d4dff7"></div>
<div class="abs" style="left:13.90px;top:180.68px;font-size:7.9px;line-height:19.22px;color:#222;white-space:nowrap">Apartment 5</div>
<div class="abs cc" style="left:139.00px;top:180.68px;width:117.00px;font-size:7.4px;line-height:19.22px;color:#222;white-space:nowrap;transform:scaleX(.85)">350,000.00</div>
<div class="abs cc" style="left:262.60px;top:180.68px;width:116.40px;font-size:7.4px;line-height:19.22px;color:#222;white-space:nowrap;transform:scaleX(.85)">50,000.00</div>
<div class="abs cc" style="left:385.60px;top:180.68px;width:115.40px;font-size:7.4px;line-height:19.22px;color:#222;white-space:nowrap;transform:scaleX(.85)">300,000.00</div>
<div class="abs cc" style="left:481.00px;top:180.68px;width:45.60px;font-size:7.4px;line-height:19.22px;color:#222;white-space:nowrap;transform:scaleX(.85)">2.50%</div>
<div class="abs cc" style="left:506.60px;top:180.68px;width:84.20px;font-size:7.4px;line-height:19.22px;color:#222;white-space:nowrap;transform:scaleX(.85)">30</div>
<div class="abs cc" style="left:597.20px;top:180.68px;width:96.70px;font-size:7.4px;line-height:19.22px;color:#222;white-space:nowrap;transform:scaleX(.85)">1,185.36</div>
<div class="abs cc" style="left:700.70px;top:180.68px;width:116.60px;font-size:7.4px;line-height:19.22px;color:#222;white-space:nowrap;transform:scaleX(.85)">426,730.57</div>
<div class="abs cc" style="left:824.00px;top:180.68px;width:116.30px;font-size:7.4px;line-height:19.22px;color:#222;white-space:nowrap;transform:scaleX(.85)">126,730.57</div>
<div class="abs cc" style="left:946.90px;top:180.68px;width:116.40px;font-size:7.4px;line-height:19.22px;color:#222;white-space:nowrap;transform:scaleX(.85)">240.00</div>
<div class="abs cc" style="left:1069.90px;top:180.68px;width:116.60px;font-size:7.4px;line-height:19.22px;color:#222;white-space:nowrap;transform:scaleX(.85)">0.00</div>
<div class="abs cc" style="left:1166.50px;top:180.68px;width:116.80px;font-size:7.4px;line-height:19.22px;color:#222;white-space:nowrap;transform:scaleX(.85)">0.07%</div>
<div class="abs cc" style="left:246.00px;top:180.68px;width:26.60px;font-size:7.4px;line-height:19.22px;color:#333;white-space:nowrap">USD</div>
<div class="abs cc" style="left:369.00px;top:180.68px;width:26.60px;font-size:7.4px;line-height:19.22px;color:#333;white-space:nowrap">USD</div>
<div class="abs cc" style="left:580.80px;top:180.68px;width:26.40px;font-size:7.4px;line-height:19.22px;color:#333;white-space:nowrap">USD</div>
<div class="abs cc" style="left:683.90px;top:180.68px;width:26.80px;font-size:7.4px;line-height:19.22px;color:#333;white-space:nowrap">USD</div>
<div class="abs cc" style="left:807.30px;top:180.68px;width:26.70px;font-size:7.4px;line-height:19.22px;color:#333;white-space:nowrap">USD</div>
<div class="abs cc" style="left:930.30px;top:180.68px;width:26.60px;font-size:7.4px;line-height:19.22px;color:#333;white-space:nowrap">USD</div>
<div class="abs cc" style="left:1053.30px;top:180.68px;width:26.60px;font-size:7.4px;line-height:19.22px;color:#333;white-space:nowrap">USD</div>
<div class="abs" style="left:11.60px;top:218.92px;width:1261.70px;height:0;border-top:1px dotted #d4dff7"></div>
<div class="abs" style="left:13.90px;top:199.90px;font-size:7.9px;line-height:19.22px;color:#222;white-space:nowrap">Apartment 6</div>
<div class="abs cc" style="left:139.00px;top:199.90px;width:117.00px;font-size:7.4px;line-height:19.22px;color:#222;white-space:nowrap;transform:scaleX(.85)">100,000.00</div>
<div class="abs cc" style="left:262.60px;top:199.90px;width:116.40px;font-size:7.4px;line-height:19.22px;color:#222;white-space:nowrap;transform:scaleX(.85)">40,000.00</div>
<div class="abs cc" style="left:385.60px;top:199.90px;width:115.40px;font-size:7.4px;line-height:19.22px;color:#222;white-space:nowrap;transform:scaleX(.85)">60,000.00</div>
<div class="abs cc" style="left:481.00px;top:199.90px;width:45.60px;font-size:7.4px;line-height:19.22px;color:#222;white-space:nowrap;transform:scaleX(.85)">2.50%</div>
<div class="abs cc" style="left:506.60px;top:199.90px;width:84.20px;font-size:7.4px;line-height:19.22px;color:#222;white-space:nowrap;transform:scaleX(.85)">30</div>
<div class="abs cc" style="left:597.20px;top:199.90px;width:96.70px;font-size:7.4px;line-height:19.22px;color:#222;white-space:nowrap;transform:scaleX(.85)">237.07</div>
<div class="abs cc" style="left:700.70px;top:199.90px;width:116.60px;font-size:7.4px;line-height:19.22px;color:#222;white-space:nowrap;transform:scaleX(.85)">85,346.11</div>
<div class="abs cc" style="left:824.00px;top:199.90px;width:116.30px;font-size:7.4px;line-height:19.22px;color:#222;white-space:nowrap;transform:scaleX(.85)">25,346.11</div>
<div class="abs cc" style="left:946.90px;top:199.90px;width:116.40px;font-size:7.4px;line-height:19.22px;color:#222;white-space:nowrap;transform:scaleX(.85)">1,300.00</div>
<div class="abs cc" style="left:1069.90px;top:199.90px;width:116.60px;font-size:7.4px;line-height:19.22px;color:#222;white-space:nowrap;transform:scaleX(.85)">0.00</div>
<div class="abs cc" style="left:1166.50px;top:199.90px;width:116.80px;font-size:7.4px;line-height:19.22px;color:#222;white-space:nowrap;transform:scaleX(.85)">1.30%</div>
<div class="abs cc" style="left:246.00px;top:199.90px;width:26.60px;font-size:7.4px;line-height:19.22px;color:#333;white-space:nowrap">USD</div>
<div class="abs cc" style="left:369.00px;top:199.90px;width:26.60px;font-size:7.4px;line-height:19.22px;color:#333;white-space:nowrap">USD</div>
<div class="abs cc" style="left:580.80px;top:199.90px;width:26.40px;font-size:7.4px;line-height:19.22px;color:#333;white-space:nowrap">USD</div>
<div class="abs cc" style="left:683.90px;top:199.90px;width:26.80px;font-size:7.4px;line-height:19.22px;color:#333;white-space:nowrap">USD</div>
<div class="abs cc" style="left:807.30px;top:199.90px;width:26.70px;font-size:7.4px;line-height:19.22px;color:#333;white-space:nowrap">USD</div>
<div class="abs cc" style="left:930.30px;top:199.90px;width:26.60px;font-size:7.4px;line-height:19.22px;color:#333;white-space:nowrap">USD</div>
<div class="abs cc" style="left:1053.30px;top:199.90px;width:26.60px;font-size:7.4px;line-height:19.22px;color:#333;white-space:nowrap">USD</div>
<div class="abs" style="left:11.60px;top:238.14px;width:1261.70px;height:0;border-top:1px dotted #d4dff7"></div>
<div class="abs" style="left:11.60px;top:257.36px;width:1261.70px;height:0;border-top:1px dotted #d4dff7"></div>
<div class="abs" style="left:11.60px;top:276.58px;width:1261.70px;height:0;border-top:1px dotted #d4dff7"></div>
<div class="abs" style="left:11.60px;top:295.80px;width:1261.70px;height:0;border-top:1px dotted #d4dff7"></div>
<div class="abs" style="left:11.60px;top:315.02px;width:1261.70px;height:0;border-top:1px dotted #d4dff7"></div>
</div>
</div></body></html>
